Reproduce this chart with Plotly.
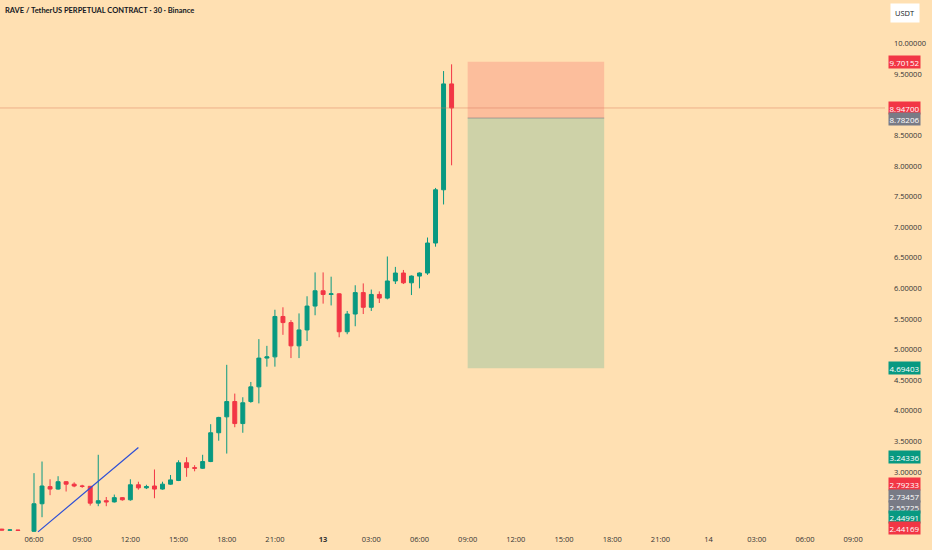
import pandas as pd
import plotly.graph_objects as go

# 30 min candles, RAVE/USDT perp (05:30 bar is missing in the chart)
times = list(pd.date_range('2025-12-12 04:00', periods=3, freq='30min')) + \
        list(pd.date_range('2025-12-12 06:00', periods=53, freq='30min'))

opens = [2.065, 2.048, 2.050,
         2.03, 2.48, 2.76, 2.72, 2.84, 2.80, 2.77, 2.765, 2.49, 2.53,
         2.51, 2.58, 2.545, 2.79, 2.74, 2.77, 2.72, 2.80, 2.86, 3.15,
         3.07, 3.06, 3.17, 3.64, 3.90, 4.15, 3.79, 4.15, 4.39, 4.86,
         4.88, 5.54, 5.44, 5.06, 5.32, 5.71, 5.96, 5.90, 5.91, 5.29,
         5.58, 5.93, 5.69, 5.90, 5.84, 6.12, 6.25, 6.09, 6.20, 6.25,
         6.74, 7.61, 9.34]
highs = [2.070, 2.065, 2.052,
         2.98, 3.17, 2.88, 2.93, 2.85, 2.83, 2.79, 2.77, 3.28, 2.59,
         2.63, 2.59, 2.88, 2.84, 2.79, 3.04, 2.84, 2.95, 3.19, 3.24,
         3.11, 3.28, 3.78, 3.90, 4.75, 4.28, 4.22, 4.47, 5.17, 5.06,
         5.65, 5.69, 5.48, 5.59, 5.87, 6.26, 6.26, 6.19, 5.92, 5.63,
         6.05, 6.08, 5.98, 5.95, 6.52, 6.35, 6.30, 6.21, 6.26, 6.83,
         7.64, 9.55, 9.66]
lows = [2.045, 2.040, 2.040,
        2.02, 2.26, 2.62, 2.71, 2.68, 2.75, 2.74, 2.45, 2.44, 2.44,
        2.50, 2.53, 2.53, 2.71, 2.72, 2.57, 2.71, 2.79, 2.85, 2.92,
        3.01, 3.05, 3.16, 3.51, 3.30, 3.73, 3.64, 4.13, 4.12, 4.72,
        4.72, 5.24, 4.86, 4.86, 5.14, 5.56, 5.75, 5.72, 5.20, 5.25,
        5.38, 5.58, 5.63, 5.76, 5.82, 6.07, 6.07, 5.89, 6.00, 6.22,
        6.68, 7.37, 8.01]
closes = [2.050, 2.052, 2.045,
          2.48, 2.77, 2.72, 2.84, 2.80, 2.77, 2.765, 2.49, 2.53, 2.51,
          2.58, 2.545, 2.79, 2.74, 2.76, 2.72, 2.80, 2.87, 3.15, 3.07,
          3.06, 3.17, 3.64, 3.89, 4.15, 3.79, 4.13, 4.39, 4.86, 4.88,
          5.54, 5.44, 5.06, 5.32, 5.71, 5.96, 5.90, 5.91, 5.29, 5.58,
          5.93, 5.69, 5.90, 5.84, 6.12, 6.25, 6.09, 6.20, 6.25, 6.74,
          7.61, 9.34, 8.947]

# short position tool
pos_start = '2025-12-13 09:00'
pos_end = '2025-12-13 17:30'
stop_price = 9.70152
entry_price = 8.78206
target_price = 4.69403

# trend line drawn by hand
trend_x = ['2025-12-12 06:15', '2025-12-12 12:30']
trend_y = [2.02, 3.40]

# price scale badges: value, colour, extra shift (px) to unstack them
badge_vals = [9.70152, 8.94700, 8.78206, 4.69403, 3.24336,
              2.79233, 2.73457, 2.55725, 2.44991, 2.44169]
badge_cols = ['#F23645', '#F23645', '#787B86', '#089981', '#089981',
              '#F23645', '#787B86', '#787B86', '#089981', '#F23645']
badge_shift = [0, 0, -1, 0, 0, 1, -8, -7.5, -11.5, -22]

ytick_vals = [3.0, 3.5, 4.0, 4.5, 5.0, 5.5, 6.0, 6.5, 7.0, 7.5, 8.0, 8.5, 9.5, 10.0]

xtick_vals = pd.date_range('2025-12-12 06:00', '2025-12-14 09:00', freq='3h')
xtick_text = []
for t in xtick_vals:
    if t.hour == 0 and t.day == 13:
        xtick_text.append('<b>13</b>')
    elif t.hour == 0:
        xtick_text.append(str(t.day))
    else:
        xtick_text.append(t.strftime('%H:%M'))

BG = '#FFE0B2'
UP = '#089981'
DOWN = '#F23645'
FONT = 'Open Sans'

fig = go.Figure()

fig.add_trace(go.Candlestick(
    x=times, open=opens, high=highs, low=lows, close=closes,
    increasing=dict(line=dict(color=UP, width=1), fillcolor=UP),
    decreasing=dict(line=dict(color=DOWN, width=1), fillcolor=DOWN),
    hoverinfo='skip', showlegend=False
))

fig.add_trace(go.Scatter(
    x=trend_x, y=trend_y, mode='lines',
    line=dict(color='#2E4FD6', width=1.2),
    hoverinfo='skip', showlegend=False
))

# risk (red) and reward (green) zones
fig.add_shape(type='rect', x0=pos_start, x1=pos_end, y0=entry_price, y1=stop_price,
              fillcolor='rgba(242,54,69,0.2)', line=dict(width=0), layer='below')
fig.add_shape(type='rect', x0=pos_start, x1=pos_end, y0=target_price, y1=entry_price,
              fillcolor='rgba(8,153,129,0.2)', line=dict(width=0), layer='below')
fig.add_shape(type='line', x0=pos_start, x1=pos_end, y0=entry_price, y1=entry_price,
              line=dict(color='rgba(120,123,134,0.6)', width=1))

# last price line
fig.add_shape(type='line', xref='paper', x0=0, x1=1, y0=closes[-1], y1=closes[-1],
              line=dict(color='rgba(214,120,90,0.45)', width=1))

for v, c, s in zip(badge_vals, badge_cols, badge_shift):
    fig.add_annotation(
        xref='paper', x=1, xanchor='left', xshift=3,
        yref='y', y=v, yshift=s, yanchor='middle',
        text=f'{v:.5f}', showarrow=False,
        font=dict(color='white', size=8, family=FONT),
        bgcolor=c, borderpad=0.5
    )

fig.add_annotation(
    xref='paper', yref='paper', x=0, y=1, xanchor='left', yanchor='top',
    xshift=3, yshift=-4,
    text='<b>RAVE / TetherUS PERPETUAL CONTRACT · 30 · Binance</b>',
    showarrow=False, font=dict(size=7.5, color='#131722', family='Lato')
)
fig.add_annotation(
    xref='paper', yref='paper', x=1, y=1, xanchor='left', yanchor='top',
    xshift=5, yshift=-3,
    text='USDT', showarrow=False,
    font=dict(size=7.5, color='#131722', family=FONT),
    bgcolor='white', borderpad=4
)

fig.update_layout(
    width=932, height=550,
    paper_bgcolor=BG, plot_bgcolor=BG,
    margin=dict(l=0, r=47, t=0, b=17),
    showlegend=False,
    font=dict(family=FONT, size=7.5, color='#131722'),
)
fig.update_xaxes(
    type='date', range=['2025-12-12 03:53', '2025-12-14 10:59'],
    tickvals=xtick_vals, ticktext=xtick_text,
    showgrid=False, zeroline=False, showline=False, ticks='',
    rangeslider=dict(visible=False), tickfont=dict(size=7.5, color='#333333')
)
fig.update_yaxes(
    side='right', range=[2.002, 10.711],
    tickvals=ytick_vals, tickformat='.5f',
    showgrid=False, zeroline=False, showline=False, ticks='',
    ticklabelstandoff=8, tickfont=dict(size=7.5, color='#333333')
)

fig.write_html('out.html', config={'displayModeBar': False},
               post_script="document.body.style.margin='0';")
